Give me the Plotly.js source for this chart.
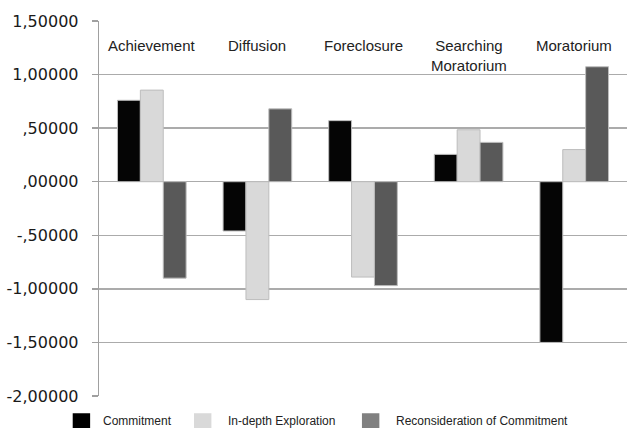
<!DOCTYPE html>
<html>
<head>
<meta charset="utf-8">
<script src="https://cdn.plot.ly/plotly-3.0.1.min.js"></script>
<style>html,body{margin:0;padding:0;background:#fff;}#chart{width:627px;height:428px;}</style>
</head>
<body>
<div id="chart"></div>
<script>
const categories = ["Achievement", "Diffusion", "Foreclosure", "Searching<br>Moratorium", "Moratorium"];
const seriesNames = ["Commitment", "In-depth Exploration", "Reconsideration of Commitment"];
const commitment = [0.76, -0.46, 0.57, 0.255, -1.50];
const indepth = [0.855, -1.10, -0.89, 0.485, 0.30];
const reconsideration = [-0.90, 0.68, -0.97, 0.367, 1.073];
const tickValues = [-2, -1.5, -1, -0.5, 0, 0.5, 1, 1.5];
const tickLabels = ["-2,00000", "-1,50000", "-1,00000", "-,50000", ",00000", ",50000", "1,00000", "1,50000"];

const barColors = ["#050505", "#d9d9d9", "#595959"];
const legendColors = ["#000000", "#d9d9d9", "#808080"];
const values = [commitment, indepth, reconsideration];

const traces = values.map((v, i) => ({
  type: "bar",
  name: seriesNames[i],
  x: categories,
  y: v,
  marker: {color: barColors[i], line: {color: "#bdbdbd", width: 1}},
  showlegend: false,
  hoverinfo: "skip"
}));

const annotations = categories.map(c => ({
  x: c, xref: "x", y: 0.963, yref: "paper",
  text: c, showarrow: false, xanchor: "center", yanchor: "top",
  font: {family: "Liberation Sans, Arial, sans-serif", size: 15, color: "#222"}
}));

// custom legend
const legendX = [-0.0498, 0.1799, 0.498];
const legendTextX = [0.0044, 0.2405, 0.5587];
const shapes = [];
seriesNames.forEach((n, i) => {
  shapes.push({type: "rect", xref: "paper", yref: "paper",
    x0: legendX[i], x1: legendX[i] + 0.033, y0: -0.046, y1: -0.095,
    fillcolor: legendColors[i], line: {width: 0}});
  annotations.push({x: legendTextX[i], xref: "paper", y: -0.067, yref: "paper",
    text: n, showarrow: false, xanchor: "left", yanchor: "middle",
    font: {family: "Liberation Sans, Arial, sans-serif", size: 12, color: "#222"}});
});

const layout = {
  width: 627, height: 428,
  margin: {l: 99, r: 0, t: 21, b: 32},
  paper_bgcolor: "#fff", plot_bgcolor: "#fff",
  barmode: "group", bargap: 0.35, bargroupgap: 0,
  xaxis: {type: "category", showticklabels: false, showgrid: false, zeroline: false,
    showline: false, ticks: "", range: [-0.5, 4.5], fixedrange: true},
  yaxis: {range: [-2, 1.5], tickvals: tickValues, ticktext: tickLabels,
    showgrid: true, gridcolor: "#ababab", gridwidth: 1.3,
    zeroline: false, showline: true, linecolor: "#a0a0a0", linewidth: 1.3,
    ticks: "outside", ticklen: 6, tickcolor: "#a0a0a0", tickwidth: 1.3,
    ticklabelstandoff: 10,
    tickfont: {family: "DejaVu Sans, Verdana, sans-serif", size: 16, color: "#1a1a1a"}},
  annotations: annotations,
  shapes: shapes,
  showlegend: false
};

Plotly.newPlot("chart", traces, layout, {displayModeBar: false, staticPlot: true});
</script>
</body>
</html>
